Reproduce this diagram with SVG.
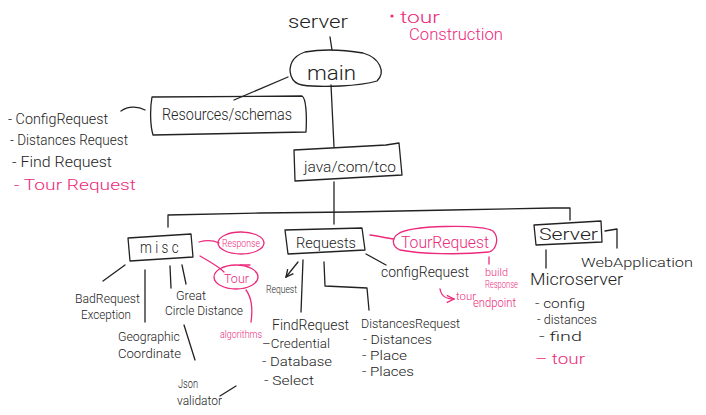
<svg xmlns="http://www.w3.org/2000/svg" width="706" height="415" viewBox="0 0 706 415">
<style>
text{font-family:"Roboto","Open Sans","Liberation Sans",sans-serif;font-weight:300;fill:#222}
.k{fill:none;stroke:#222;stroke-width:1.3;stroke-linecap:round;stroke-linejoin:round}
.p{fill:none;stroke:#ec2a7c;stroke-width:1.3;stroke-linecap:round;stroke-linejoin:round}
.pt{fill:#ec2a7c}
</style>
<defs>
<marker id="ak" viewBox="0 0 10 10" refX="9" refY="5" markerWidth="7" markerHeight="7" orient="auto"><path d="M1,1 L9,5 L1,9" fill="none" stroke="#222" stroke-width="1.5"/></marker>
<marker id="ap" viewBox="0 0 10 10" refX="9" refY="5" markerWidth="7" markerHeight="7" orient="auto"><path d="M1,1 L9,5 L1,9" fill="none" stroke="#ec2a7c" stroke-width="1.5"/></marker>
</defs>
<rect width="706" height="415" fill="#fff"/>

<g id="connectors">
<path class="k" d="M330,37 L332,50"/>
<path class="k" d="M288,77 L234,100"/>
<path class="k" d="M145,110 C138,106 128,106 121,111"/>
<path class="k" d="M331,85 L334,147"/>
<path class="k" d="M334,182 L334,224"/>
<path class="k" d="M168,227 L168,215 L260,213 L350,212 L450,210 L553,208 L570,208 L570,220"/>
<path class="k" d="M605,231 L617,229 L617,248"/>
<path class="k" d="M546,250 L546,268"/>
<path class="k" d="M366,254 L386,265"/>
<path class="k" d="M298,262 L286,277" marker-end="url(#ak)"/>
<path class="k" d="M303,260 L301,312"/>
<path class="k" d="M324,262 L325,286 L367,288 L369,310"/>
<path class="k" d="M125,265 L103,281"/>
<path class="k" d="M145,270 L145,322"/>
<path class="k" d="M170,266 L171,288"/>
<path class="k" d="M182,265 L186,284"/>
<path class="k" d="M184,325 L195,360"/>
<path class="k" d="M220,396 L236,386"/>
<path class="p" d="M199,242 C206,240 213,240 219,243"/>
<path class="p" d="M200,256 C210,262 218,266 224,272"/>
<path class="p" d="M240,265 L250,265"/>
<path class="p" d="M246,290 C252,298 253,308 251,322"/>
<path class="p" d="M370,235 C378,236 386,238 394,239"/>
<path class="p" d="M489,257 L489,264"/>
<path class="p" d="M440,289 C441,295 444,299 454,299" marker-end="url(#ap)"/>
</g>

<g id="server-label"><text x="288" y="28" font-size="18" textLength="60" lengthAdjust="spacingAndGlyphs">server</text></g>

<g id="note-tour">
<circle cx="392" cy="16" r="1.6" class="pt"/>
<text x="400" y="23" font-size="16" class="pt" textLength="40" lengthAdjust="spacingAndGlyphs">tour</text>
<text x="409" y="40" font-size="16" class="pt" textLength="94" lengthAdjust="spacingAndGlyphs">Construction</text>
</g>

<g id="main">
<path class="k" d="M305,52 C322,49 345,50 363,53 C380,58 386,72 377,81 C360,86 322,88 302,85 C290,83 288,70 292,62 C295,56 299,54 305,52 Z"/>
<text x="307" y="80" font-size="20" textLength="49" lengthAdjust="spacingAndGlyphs">main</text>
</g>

<g id="resources">
<path class="k" d="M152,97 L302,96 C306,98 307,115 306,132 L153,135 C150,125 150,108 152,97 Z"/>
<text x="162" y="120" font-size="16" textLength="130" lengthAdjust="spacingAndGlyphs">Resources/schemas</text>
</g>

<g id="schema-list">
<text x="8" y="124" font-size="14" textLength="100" lengthAdjust="spacingAndGlyphs">- ConfigRequest</text>
<text x="10" y="145" font-size="14" textLength="118" lengthAdjust="spacingAndGlyphs">- Distances Request</text>
<text x="12" y="167" font-size="14" textLength="100" lengthAdjust="spacingAndGlyphs">- Find Request</text>
<text x="14" y="190" font-size="15" class="pt" textLength="122" lengthAdjust="spacingAndGlyphs">-  Tour Request</text>
</g>

<g id="java">
<path class="k" d="M294,150 L386,145 L399,143 L402,175 L295,181 Z"/>
<text x="304" y="172" font-size="14" textLength="92" lengthAdjust="spacingAndGlyphs">java/com/tco</text>
</g>

<g id="misc">
<path class="k" d="M128,238 L191,234 L193,257 L130,261 Z"/>
<text x="140" y="253" font-size="16" letter-spacing="4" textLength="42" lengthAdjust="spacingAndGlyphs">misc</text>
</g>

<g id="response-note">
<ellipse cx="241" cy="243" rx="23" ry="11" class="p"/>
<text x="222" y="247" font-size="10" class="pt" textLength="38" lengthAdjust="spacingAndGlyphs">Response</text>
</g>

<g id="tour-note">
<ellipse cx="236" cy="277" rx="22" ry="12" class="p"/>
<text x="224" y="283" font-size="13" class="pt" textLength="25" lengthAdjust="spacingAndGlyphs">Tour</text>
<text x="220" y="338" font-size="11" class="pt" textLength="42" lengthAdjust="spacingAndGlyphs">algorithms</text>
</g>

<g id="badrequest">
<text x="75" y="303" font-size="13" textLength="65" lengthAdjust="spacingAndGlyphs">BadRequest</text>
<text x="81" y="319" font-size="13" textLength="50" lengthAdjust="spacingAndGlyphs">Exception</text>
</g>

<g id="greatcircle">
<text x="176" y="300" font-size="13" textLength="30" lengthAdjust="spacingAndGlyphs">Great</text>
<text x="165" y="315" font-size="13" textLength="78" lengthAdjust="spacingAndGlyphs">Circle Distance</text>
</g>

<g id="geographic">
<text x="118" y="341" font-size="13" textLength="62" lengthAdjust="spacingAndGlyphs">Geographic</text>
<text x="118" y="358" font-size="13" textLength="63" lengthAdjust="spacingAndGlyphs">Coordinate</text>
</g>

<g id="json">
<text x="178" y="388" font-size="13" textLength="20" lengthAdjust="spacingAndGlyphs">Json</text>
<text x="177" y="405" font-size="13" textLength="45" lengthAdjust="spacingAndGlyphs">validator</text>
</g>

<g id="requests">
<path class="k" d="M285,230 L362,228 L365,250 L288,254 Z"/>
<text x="296" y="248" font-size="15" textLength="60" lengthAdjust="spacingAndGlyphs">Requests</text>
</g>

<g id="request-leaf"><text x="266" y="293" font-size="11" textLength="31" lengthAdjust="spacingAndGlyphs">Request</text></g>

<g id="tourrequest">
<path class="p" d="M398,234 C410,225 480,224 493,231 C500,238 496,250 489,252 C460,255 420,254 400,250 C391,246 392,238 398,234 Z"/>
<text x="401" y="248" font-size="16" class="pt" textLength="88" lengthAdjust="spacingAndGlyphs">TourRequest</text>
<text x="485" y="276" font-size="11" class="pt" textLength="23" lengthAdjust="spacingAndGlyphs">build</text>
<text x="485" y="288" font-size="11" class="pt" textLength="33" lengthAdjust="spacingAndGlyphs">Response</text>
</g>

<g id="configrequest">
<text x="381" y="277" font-size="15" textLength="88" lengthAdjust="spacingAndGlyphs">configRequest</text>
<text x="456" y="300" font-size="11" class="pt" textLength="20" lengthAdjust="spacingAndGlyphs">tour</text>
<text x="473" y="307" font-size="12" class="pt" textLength="43" lengthAdjust="spacingAndGlyphs">endpoint</text>
</g>

<g id="findrequest">
<text x="272" y="330" font-size="14" textLength="77" lengthAdjust="spacingAndGlyphs">FindRequest</text>
<text x="262" y="348" font-size="13" textLength="68" lengthAdjust="spacingAndGlyphs">–Credential</text>
<text x="262" y="366" font-size="13" textLength="70" lengthAdjust="spacingAndGlyphs">- Database</text>
<text x="264" y="385" font-size="13" textLength="50" lengthAdjust="spacingAndGlyphs">- Select</text>
</g>

<g id="distancesrequest">
<text x="361" y="328" font-size="13" textLength="99" lengthAdjust="spacingAndGlyphs">DistancesRequest</text>
<text x="363" y="344" font-size="13" textLength="69" lengthAdjust="spacingAndGlyphs">- Distances</text>
<text x="362" y="360" font-size="13" textLength="45" lengthAdjust="spacingAndGlyphs">- Place</text>
<text x="362" y="376" font-size="13" textLength="52" lengthAdjust="spacingAndGlyphs">- Places</text>
</g>

<g id="server">
<path class="k" d="M534,225 L601,221 L602,242 L536,245 Z"/>
<text x="539" y="240" font-size="16" textLength="59" lengthAdjust="spacingAndGlyphs">Server</text>
</g>

<g id="webapp"><text x="581" y="267" font-size="13" textLength="112" lengthAdjust="spacingAndGlyphs">WebApplication</text></g>

<g id="microserver">
<text x="530" y="285" font-size="16" textLength="93" lengthAdjust="spacingAndGlyphs">Microserver</text>
<text x="535" y="308" font-size="13" textLength="50" lengthAdjust="spacingAndGlyphs">- config</text>
<text x="537" y="324" font-size="13" textLength="60" lengthAdjust="spacingAndGlyphs">- distances</text>
<text x="539" y="341" font-size="13" textLength="43" lengthAdjust="spacingAndGlyphs">- find</text>
<text x="535" y="364" font-size="14" class="pt" textLength="50" lengthAdjust="spacingAndGlyphs">–  tour</text>
</g>
</svg>
